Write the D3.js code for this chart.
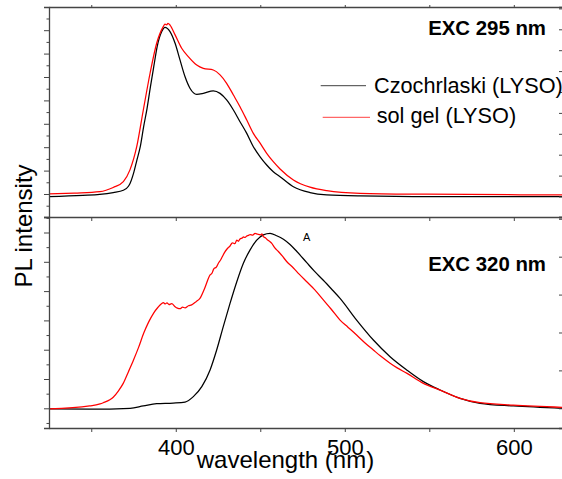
<!DOCTYPE html>
<html>
<head>
<meta charset="utf-8">
<script src="https://cdn.jsdelivr.net/npm/d3@7"></script>
<style>
  html, body { margin: 0; padding: 0; background: #fff; }
  svg { display: block; }
  text { font-family: "Liberation Sans", Arial, sans-serif; fill: #000; }
</style>
</head>
<body>
<svg id="chart" width="562" height="479"></svg>
<script>
// PL emission spectra of LYSO, two excitation wavelengths (arbitrary units)

// Excitation at 295 nm
const exc295CzNm = [325, 345, 355, 363, 369, 372, 373, 375, 377, 379, 381, 383, 385, 387, 389, 391.7, 393.6, 396.6, 399.6, 402.5, 405.5, 408.4, 412.4, 416.3, 422.2, 426.2, 430.1, 434.1, 438, 442, 445.9, 449.9, 453.8, 457.7, 461.7, 469.6, 479.4, 489.3, 509, 548.5, 629];
const exc295CzVal = [-115, -60, -20, 60, 160, 330, 460, 880, 1450, 2020, 2880, 3650, 4580, 5450, 6300, 6940, 7120, 6940, 6440, 5730, 5010, 4520, 4260, 4300, 4410, 4300, 4020, 3590, 3090, 2590, 2020, 1590, 1240, 950, 740, 310, 60, -40, -85, -110, -115];

const exc295SgNm = [325, 340, 355, 363, 369, 372.9, 376.9, 380.8, 384.8, 388.7, 392.6, 393.6, 394.6, 395.4, 396.6, 399.6, 403.5, 407.4, 412.4, 416.3, 422.2, 426.2, 430.1, 434.1, 438, 442, 445.9, 449.9, 453.8, 457.7, 461.7, 469.6, 479.4, 489.3, 509, 548.5, 629];
const exc295SgVal = [0, 40, 100, 280, 530, 1030, 2020, 3590, 5160, 6440, 7150, 7260, 7230, 7290, 7220, 6800, 6230, 5870, 5510, 5370, 5300, 5090, 4730, 4230, 3730, 3160, 2590, 2170, 1740, 1380, 1070, 600, 290, 140, 30, -10, -40];

// Excitation at 320 nm
const exc320CzNm = [325, 349, 373, 380.8, 388.7, 398.5, 405.5, 410.4, 415.4, 420.3, 424.2, 428.1, 432.1, 436.1, 440, 443.9, 447.9, 451.8, 455.8, 459.7, 463.7, 467.6, 471.5, 477.5, 482, 487.3, 492, 497.2, 507, 516.9, 526.8, 536.6, 546.5, 556.4, 568.2, 580, 599.7, 629];
const exc320CzVal = [-20, -30, 0, 80, 160, 180, 215, 400, 740, 1310, 1990, 2790, 3580, 4320, 4950, 5400, 5740, 5920, 5970, 5890, 5770, 5590, 5360, 4970, 4680, 4370, 4080, 3750, 3010, 2330, 1760, 1310, 910, 625, 340, 170, 80, 0];

const exc320SgNm = [325, 349, 355.2, 357.1, 361, 363, 366, 369, 372, 375, 378, 381, 384, 387, 389.5, 391.7, 392.6, 393.8, 394.8, 396, 397.6, 399.6, 401, 402.5, 404, 405.5, 407.5, 409.4, 412, 414.3, 417, 420.3, 421.5, 422.5, 424, 425.2, 426.5, 427.5, 429, 430.1, 431, 432, 433.5, 435, 436.1, 437, 438, 439.5, 440, 441, 442, 443, 444, 445.5, 446.9, 448.5, 450, 451, 451.8, 453, 454, 455.5, 456.8, 458.5, 460.7, 463, 465.6, 469.6, 473, 477.5, 482, 487.3, 492, 497.2, 502, 507, 512, 516.9, 521, 526.8, 531, 536.6, 546.5, 556.4, 568.2, 580, 599.7, 629];
const exc320SgVal = [-20, 80, 150, 190, 290, 380, 590, 860, 1250, 1650, 2080, 2560, 2950, 3260, 3450, 3580, 3610, 3560, 3600, 3540, 3570, 3470, 3420, 3400, 3450, 3430, 3500, 3530, 3640, 3750, 4080, 4550, 4620, 4760, 4820, 4950, 5060, 5170, 5330, 5420, 5480, 5530, 5650, 5620, 5740, 5700, 5780, 5820, 5850, 5830, 5880, 5900, 5930, 5910, 5970, 5940, 5920, 5950, 5860, 5820, 5760, 5700, 5630, 5480, 5350, 5200, 5010, 4790, 4580, 4320, 4060, 3700, 3380, 3010, 2760, 2500, 2230, 1990, 1790, 1540, 1380, 1200, 850, 620, 340, 190, 110, 35];

const seriesNames = ["Czochrlaski (LYSO)", "sol gel (LYSO)"];
const seriesColors = ["#000000", "#ff0000"];
const panelTitles = ["EXC 295 nm", "EXC 320 nm"];

const xTickLabels = [400, 500, 600];
const xTicksAll = [350, 400, 450, 500, 550, 600];

const svg = d3.select("#chart");

// Frame geometry
const frameL = 49, frameR = 563, frameT = 7, frameM = 217, frameB = 428;

const x = d3.scaleLinear().domain([325, 629.1]).range([frameL, frameR]);
const yTop = d3.scaleLinear().domain([-983, 7991]).range([frameM, frameT]);
const yBot = d3.scaleLinear().domain([-672, 6529]).range([frameB, frameM]);
// Secondary right-hand scales (tick marks only)
const yTopR = d3.scaleLinear().domain([-0.981, 9.067]).range([frameM, frameT]);
const yBotR = d3.scaleLinear().domain([-0.52, 5.047]).range([frameB, frameM]);

const axisColor = "#444";

// Clip regions for each panel
const defs = svg.append("defs");
defs.append("clipPath").attr("id", "clipTop").append("rect")
  .attr("x", frameL).attr("y", frameT).attr("width", frameR - frameL).attr("height", frameM - frameT);
defs.append("clipPath").attr("id", "clipBot").append("rect")
  .attr("x", frameL).attr("y", frameM).attr("width", frameR - frameL).attr("height", frameB - frameM);

function drawSeries(clipId, yScale, nm, val, color) {
  const pts = nm.map((d, i) => [d, val[i]]);
  const line = d3.line()
    .x(d => x(d[0]))
    .y(d => yScale(d[1]))
    .curve(d3.curveMonotoneX);
  svg.append("path")
    .attr("clip-path", `url(#${clipId})`)
    .attr("d", line(pts))
    .attr("fill", "none")
    .attr("stroke", color)
    .attr("stroke-width", 1.25)
    .attr("stroke-linejoin", "round");
}

drawSeries("clipTop", yTop, exc295CzNm, exc295CzVal, seriesColors[0]);
drawSeries("clipTop", yTop, exc295SgNm, exc295SgVal, seriesColors[1]);
drawSeries("clipBot", yBot, exc320CzNm, exc320CzVal, seriesColors[0]);
drawSeries("clipBot", yBot, exc320SgNm, exc320SgVal, seriesColors[1]);

function styleAxis(g) {
  g.selectAll("path.domain").attr("stroke", axisColor).attr("stroke-width", 1.3);
  g.selectAll(".tick line").attr("stroke", axisColor).attr("stroke-width", 1);
}

// Left axes: major and minor ticks, no labels
function leftAxis(yScale, lo, hi) {
  const majors = d3.range(lo, hi + 1, 1000);
  const minors = d3.range(lo - 500, hi + 1000, 1000);
  svg.append("g").attr("transform", `translate(${frameL},0)`)
    .call(d3.axisLeft(yScale).tickValues(majors).tickSize(5).tickFormat(""))
    .call(styleAxis);
  svg.append("g").attr("transform", `translate(${frameL},0)`)
    .call(d3.axisLeft(yScale).tickValues(minors).tickSize(2.5).tickFormat(""))
    .call(g => g.select("path.domain").remove())
    .call(styleAxis);
}
leftAxis(yTop, 0, 7000);
leftAxis(yBot, 0, 6000);

// Right-hand ticks pointing inward
svg.append("g").attr("transform", `translate(${frameR},0)`)
  .call(d3.axisRight(yTopR).tickValues(d3.range(0, 10)).tickSize(-4).tickFormat(""))
  .call(styleAxis);
svg.append("g").attr("transform", `translate(${frameR},0)`)
  .call(d3.axisRight(yBotR).tickValues(d3.range(0, 6)).tickSize(-4).tickFormat(""))
  .call(styleAxis);

// Top frame with small outward ticks
svg.append("g").attr("transform", `translate(0,${frameT})`)
  .call(d3.axisTop(x).tickValues(xTicksAll).tickSize(2).tickSizeOuter(0).tickFormat(""))
  .call(styleAxis);

// Separator between panels, ticks pointing down
svg.append("g").attr("transform", `translate(0,${frameM})`)
  .call(d3.axisBottom(x).tickValues(xTicksAll).tickSize(4).tickSizeOuter(0).tickFormat(""))
  .call(styleAxis);

// Bottom axis with labels
const xAxisG = svg.append("g").attr("transform", `translate(0,${frameB})`)
  .call(d3.axisBottom(x).tickValues(xTicksAll).tickSize(4).tickSizeOuter(0).tickPadding(7.4)
    .tickFormat(d => xTickLabels.includes(d) ? d : ""))
  .call(styleAxis);
xAxisG.selectAll(".tick text")
  .attr("font-family", "'Liberation Sans', Arial, sans-serif")
  .attr("font-size", 22)
  .attr("fill", "#000");

// Axis titles
svg.append("text")
  .attr("x", 285.5).attr("y", 468)
  .attr("text-anchor", "middle")
  .attr("font-size", 24)
  .text("wavelength (nm)");

svg.append("text")
  .attr("transform", "translate(31.7,226) rotate(-90)")
  .attr("text-anchor", "middle")
  .attr("font-size", 24)
  .text("PL intensity");

// Panel titles
svg.append("text")
  .attr("x", 546).attr("y", 35)
  .attr("text-anchor", "end")
  .attr("font-size", 20.4).attr("font-weight", "bold")
  .text(panelTitles[0]);
svg.append("text")
  .attr("x", 546).attr("y", 271)
  .attr("text-anchor", "end")
  .attr("font-size", 20.4).attr("font-weight", "bold")
  .text(panelTitles[1]);

// Small marker label near the peak
svg.append("text")
  .attr("x", 303).attr("y", 241)
  .attr("font-size", 11)
  .text("A");

// Legend
const legendRows = [
  { y: 85.7, x1: 320.7, x2: 366, tx: 374, ty: 92.7 },
  { y: 117.3, x1: 322.7, x2: 370, tx: 376.7, ty: 122.7 }
];
legendRows.forEach((r, i) => {
  svg.append("line")
    .attr("x1", r.x1).attr("x2", r.x2)
    .attr("y1", r.y).attr("y2", r.y)
    .attr("stroke", seriesColors[i])
    .attr("stroke-opacity", 0.75)
    .attr("stroke-width", 1);
  svg.append("text")
    .attr("x", r.tx).attr("y", r.ty)
    .attr("font-size", 21.7)
    .text(seriesNames[i]);
});
</script>
</body>
</html>
